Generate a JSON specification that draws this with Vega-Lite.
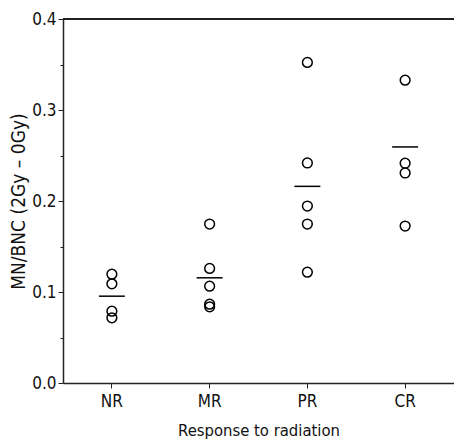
{
  "$schema": "https://vega.github.io/schema/vega-lite/v6.json",
  "width": 391,
  "height": 364,
  "autosize": {"type": "none"},
  "padding": {"left": 63, "top": 19, "right": 0, "bottom": 59},
  "background": "white",
  "config": {
    "view": {"stroke": null},
    "font": "DejaVu Sans Condensed, Liberation Sans Narrow, sans-serif",
    "axis": {
      "labelFont": "DejaVu Sans Condensed, Liberation Sans Narrow, sans-serif",
      "titleFont": "DejaVu Sans Condensed, Liberation Sans Narrow, sans-serif",
      "labelColor": "#111",
      "titleColor": "#111",
      "domainColor": "#222",
      "tickColor": "#222",
      "grid": false
    }
  },
  "data": {
    "values": [
      {"group": "NR", "value": 0.1196, "kind": "point"},
      {"group": "NR", "value": 0.109, "kind": "point"},
      {"group": "NR", "value": 0.0789, "kind": "point"},
      {"group": "NR", "value": 0.0716, "kind": "point"},
      {"group": "MR", "value": 0.1747, "kind": "point"},
      {"group": "MR", "value": 0.1259, "kind": "point"},
      {"group": "MR", "value": 0.1064, "kind": "point"},
      {"group": "MR", "value": 0.0866, "kind": "point"},
      {"group": "MR", "value": 0.0837, "kind": "point"},
      {"group": "PR", "value": 0.3523, "kind": "point"},
      {"group": "PR", "value": 0.2418, "kind": "point"},
      {"group": "PR", "value": 0.1945, "kind": "point"},
      {"group": "PR", "value": 0.1747, "kind": "point"},
      {"group": "PR", "value": 0.1218, "kind": "point"},
      {"group": "CR", "value": 0.3328, "kind": "point"},
      {"group": "CR", "value": 0.2415, "kind": "point"},
      {"group": "CR", "value": 0.2308, "kind": "point"},
      {"group": "CR", "value": 0.1725, "kind": "point"},
      {"group": "NR", "value": 0.0954, "kind": "mean"},
      {"group": "MR", "value": 0.1156, "kind": "mean"},
      {"group": "PR", "value": 0.2161, "kind": "mean"},
      {"group": "CR", "value": 0.2594, "kind": "mean"}
    ]
  },
  "layer": [
    {
      "transform": [{"filter": "datum.kind === 'point'"}],
      "mark": {"type": "point", "shape": "circle", "filled": false, "stroke": "black", "strokeWidth": 1.5, "size": 95, "opacity": 1},
      "encoding": {
        "x": {
          "field": "group",
          "type": "nominal",
          "sort": ["NR", "MR", "PR", "CR"],
          "scale": {"paddingInner": 0, "paddingOuter": 0},
          "axis": {
            "title": "Response to radiation",
            "labelAngle": 0,
            "labelFontSize": 17,
            "titleFontSize": 16.5,
            "titleFontWeight": "normal",
            "tickSize": 5,
            "labelPadding": 5,
            "titlePadding": 13,
            "domainWidth": 1.5
          }
        },
        "y": {
          "field": "value",
          "type": "quantitative",
          "scale": {"domain": [0, 0.4], "nice": false},
          "axis": {
            "title": "MN/BNC (2Gy – 0Gy)",
            "values": [0, 0.1, 0.2, 0.3, 0.4],
            "format": ".1f",
            "labelFontSize": 17,
            "titleFontSize": 19,
            "titleFontWeight": "normal",
            "tickSize": 5,
            "labelPadding": 2,
            "titlePadding": 3,
            "domainWidth": 1.5
          }
        }
      }
    },
    {
      "transform": [{"filter": "datum.kind === 'mean'"}],
      "mark": {"type": "tick", "color": "black", "size": 26, "thickness": 1.5, "opacity": 1},
      "encoding": {
        "x": {"field": "group", "type": "nominal", "sort": ["NR", "MR", "PR", "CR"]},
        "y": {
          "field": "value",
          "type": "quantitative",
          "scale": {"domain": [0, 0.4], "nice": false},
          "axis": {
            "title": null,
            "values": [0.05, 0.15, 0.25, 0.35],
            "labels": false,
            "domain": false,
            "tickSize": 3,
            "orient": "left"
          }
        }
      }
    },
    {
      "mark": {"type": "rule", "color": "#222", "strokeWidth": 1.5},
      "encoding": {
        "y": {"datum": 0.4, "type": "quantitative", "scale": {"domain": [0, 0.4], "nice": false}, "axis": null}
      }
    }
  ],
  "resolve": {"axis": {"y": "independent"}}
}
